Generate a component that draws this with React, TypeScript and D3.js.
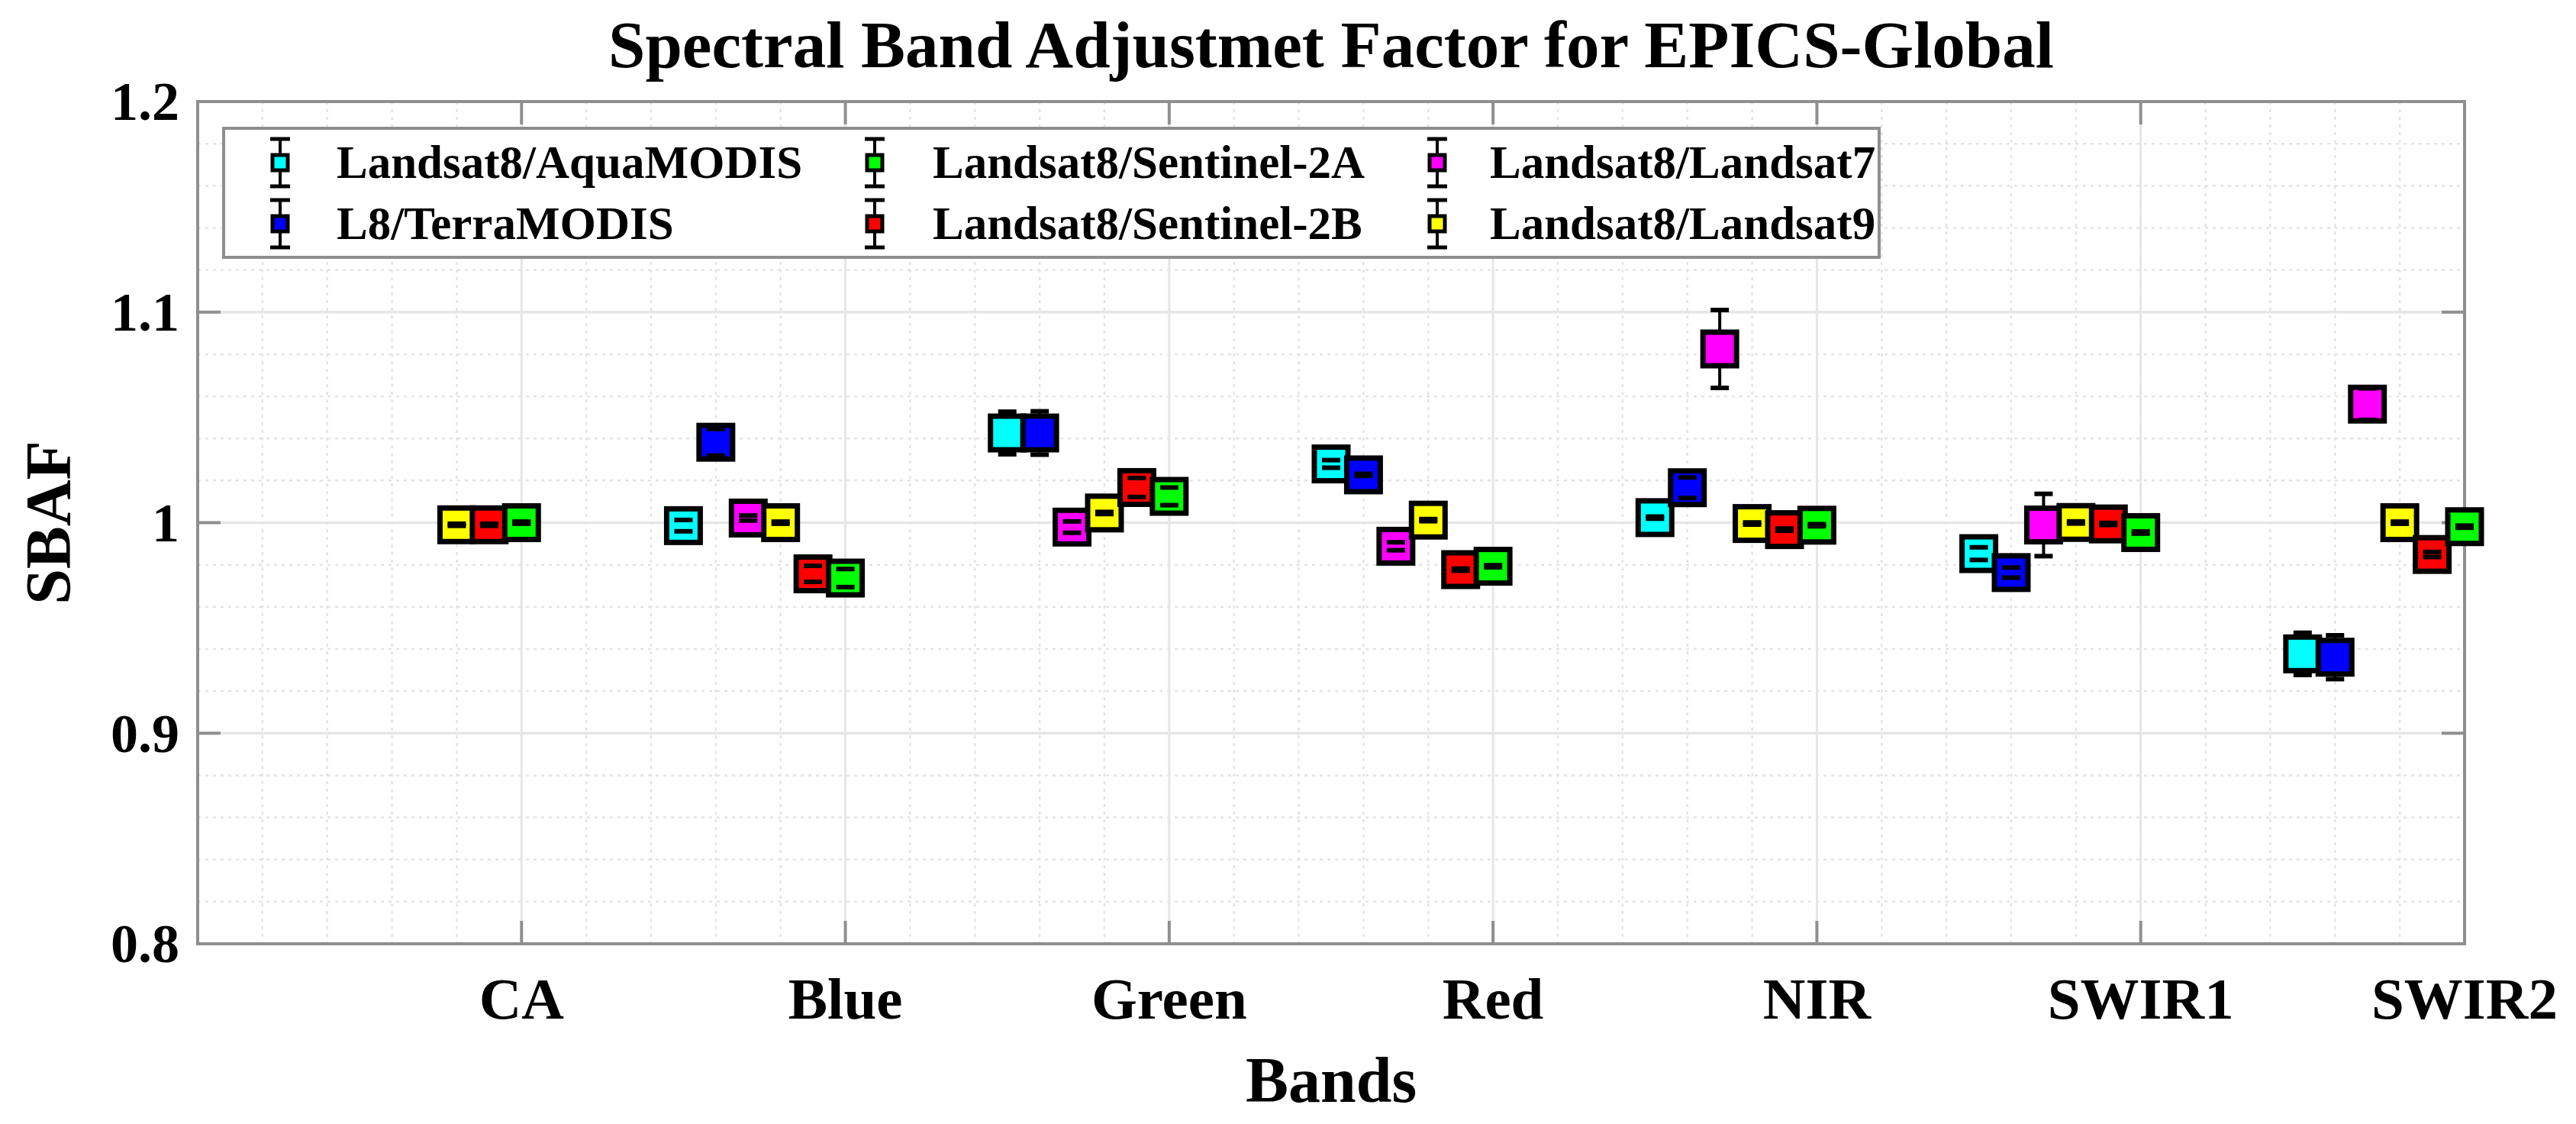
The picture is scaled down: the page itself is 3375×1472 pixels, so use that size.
import * as d3 from 'd3';
import { useRef, useEffect } from 'react';

// bands on the x axis
const bands = ['CA', 'Blue', 'Green', 'Red', 'NIR', 'SWIR1', 'SWIR2'];

// series names, in legend order
const seriesNames = [
  'Landsat8/AquaMODIS',
  'L8/TerraMODIS',
  'Landsat8/Sentinel-2A',
  'Landsat8/Sentinel-2B',
  'Landsat8/Landsat7',
  'Landsat8/Landsat9',
];
const seriesColors = ['#00FFFF', '#0000FF', '#00FF00', '#FF0000', '#FF00FF', '#FFFF00'];
// offset of each series from the band position (axis units)
const seriesOffsets = [-0.5, -0.4, 0, -0.1, -0.3, -0.2];
// drawing order (left to right inside a band)
const drawOrder = [0, 1, 4, 5, 3, 2];

// SBAF values per band (null = not available)
const aquaModis = [null, 0.9986, 1.0426, 1.0279, 1.0024, 0.9853, 0.9377];
const terraModis = [null, 1.0382, 1.0426, 1.0227, 1.0166, 0.9763, 0.9361];
const sentinel2A = [1.0, 0.9737, 1.0125, 0.9793, 0.9988, 0.9953, 0.9981];
const sentinel2B = [0.999, 0.9757, 1.0167, 0.9777, 0.9967, 0.9994, 0.9849];
const landsat7 = [null, 1.0022, 0.9979, 0.9888, 1.0825, 0.9989, 1.0563];
const landsat9 = [0.999, 1.0, 1.0046, 1.0012, 0.9996, 1.0001, 1.0];

// error (half length of the error bar)
const aquaModisErr = [null, 0.0027, 0.0101, 0.0018, 0.0005, 0.003, 0.01];
const terraModisErr = [null, 0.0063, 0.0103, 0.0005, 0.0049, 0.0024, 0.0104];
const sentinel2AErr = [0.0005, 0.0043, 0.0042, 0.0005, 0.0005, 0.0005, 0.0005];
const sentinel2BErr = [0.0005, 0.0038, 0.0045, 0.0005, 0.0005, 0.0005, 0.0012];
const landsat7Err = [null, 0.0012, 0.0027, 0.0019, 0.0185, 0.0148, 0.0075];
const landsat9Err = [0.0005, 0.0005, 0.0005, 0.0005, 0.0005, 0.0005, 0.0005];

const yTicks = [0.8, 0.9, 1, 1.1, 1.2];

const App = () => {
  const svgRef = useRef<SVGSVGElement>(null);
  const width = 3375;
  const height = 1472;
  const plot = { left: 259, right: 3229, top: 133, bottom: 1236 };
  const font = '"Liberation Serif", "Times New Roman", serif';

  useEffect(() => {
    const values = [aquaModis, terraModis, sentinel2A, sentinel2B, landsat7, landsat9];
    const errors = [aquaModisErr, terraModisErr, sentinel2AErr, sentinel2BErr, landsat7Err, landsat9Err];

    const x = d3.scaleLinear().domain([0, bands.length]).range([plot.left, plot.right]);
    const y = d3.scaleLinear().domain([0.8, 1.2]).range([plot.bottom, plot.top]);

    const svg = d3.select(svgRef.current);
    svg.selectAll('*').remove();

    svg.append('rect').attr('width', width).attr('height', height).attr('fill', '#ffffff');

    // minor grid
    const grid = svg.append('g');
    d3.range(0, 7.0001, 0.2).forEach((v) => {
      grid.append('line')
        .attr('x1', x(v)).attr('x2', x(v))
        .attr('y1', plot.top).attr('y2', plot.bottom)
        .attr('stroke', '#e4e4e4').attr('stroke-width', 2.5)
        .attr('stroke-dasharray', '4 6');
    });
    d3.range(0.8, 1.2001, 0.02).forEach((v) => {
      grid.append('line')
        .attr('x1', plot.left).attr('x2', plot.right)
        .attr('y1', y(v)).attr('y2', y(v))
        .attr('stroke', '#e4e4e4').attr('stroke-width', 2.5)
        .attr('stroke-dasharray', '4 6');
    });
    // major grid
    d3.range(0, 8).forEach((v) => {
      grid.append('line')
        .attr('x1', x(v)).attr('x2', x(v))
        .attr('y1', plot.top).attr('y2', plot.bottom)
        .attr('stroke', '#e6e6e6').attr('stroke-width', 3);
    });
    yTicks.forEach((v) => {
      grid.append('line')
        .attr('x1', plot.left).attr('x2', plot.right)
        .attr('y1', y(v)).attr('y2', y(v))
        .attr('stroke', '#e6e6e6').attr('stroke-width', 3.5);
    });

    // axes box
    const axisColor = '#8f8f8f';
    svg.append('rect')
      .attr('x', plot.left).attr('y', plot.top)
      .attr('width', plot.right - plot.left).attr('height', plot.bottom - plot.top)
      .attr('fill', 'none').attr('stroke', axisColor).attr('stroke-width', 4);

    // ticks inside, all four sides
    const tickLen = 30;
    const ticks = svg.append('g').attr('stroke', axisColor).attr('stroke-width', 4);
    yTicks.forEach((v) => {
      ticks.append('line').attr('x1', plot.left).attr('x2', plot.left + tickLen).attr('y1', y(v)).attr('y2', y(v));
      ticks.append('line').attr('x1', plot.right).attr('x2', plot.right - tickLen).attr('y1', y(v)).attr('y2', y(v));
    });
    bands.forEach((_, i) => {
      const xv = x(i + 1);
      ticks.append('line').attr('x1', xv).attr('x2', xv).attr('y1', plot.bottom).attr('y2', plot.bottom - tickLen);
      ticks.append('line').attr('x1', xv).attr('x2', xv).attr('y1', plot.top).attr('y2', plot.top + tickLen);
    });

    // tick labels
    svg.append('g')
      .selectAll('text')
      .data(yTicks)
      .join('text')
      .attr('x', 235)
      .attr('y', (d) => y(d))
      .attr('dy', '0.34em')
      .attr('text-anchor', 'end')
      .attr('font-family', font)
      .attr('font-weight', 'bold')
      .attr('font-size', 72)
      .text((d) => d3.format('~g')(d));

    svg.append('g')
      .selectAll('text')
      .data(bands)
      .join('text')
      .attr('x', (_, i) => x(i + 1))
      .attr('y', 1334)
      .attr('text-anchor', 'middle')
      .attr('font-family', font)
      .attr('font-weight', 'bold')
      .attr('font-size', 77)
      .text((d) => d);

    // axis titles
    svg.append('text')
      .attr('x', (plot.left + plot.right) / 2)
      .attr('y', 1443)
      .attr('text-anchor', 'middle')
      .attr('font-family', font)
      .attr('font-weight', 'bold')
      .attr('font-size', 84)
      .text('Bands');

    svg.append('text')
      .attr('transform', `translate(92, ${y(1)}) rotate(-90)`)
      .attr('text-anchor', 'middle')
      .attr('font-family', font)
      .attr('font-weight', 'bold')
      .attr('font-size', 84)
      .text('SBAF');

    svg.append('text')
      .attr('x', (plot.left + plot.right) / 2)
      .attr('y', 88)
      .attr('text-anchor', 'middle')
      .attr('font-family', font)
      .attr('font-weight', 'bold')
      .attr('font-size', 87)
      .text('Spectral Band Adjustmet Factor for EPICS-Global');

    // error bars with square markers
    const marker = 44;
    const capW = 24;
    const marks = svg.append('g');
    bands.forEach((_, b) => {
      drawOrder.forEach((s) => {
        const v = values[s][b];
        const e = errors[s][b];
        if (v === null || e === null) return;
        const cx = x(b + 1 + seriesOffsets[s]);
        const g = marks.append('g');
        g.append('line')
          .attr('x1', cx).attr('x2', cx)
          .attr('y1', y(v + e)).attr('y2', y(v - e))
          .attr('stroke', '#000').attr('stroke-width', 4);
        g.append('rect')
          .attr('x', cx - marker / 2).attr('y', y(v) - marker / 2)
          .attr('width', marker).attr('height', marker)
          .attr('fill', seriesColors[s])
          .attr('stroke', '#000').attr('stroke-width', 7);
        [v + e, v - e].forEach((c) => {
          g.append('line')
            .attr('x1', cx - capW / 2).attr('x2', cx + capW / 2)
            .attr('y1', y(c)).attr('y2', y(c))
            .attr('stroke', '#000').attr('stroke-width', 6);
        });
      });
    });

    // legend
    const legend = svg.append('g');
    legend.append('rect')
      .attr('x', 293).attr('y', 168)
      .attr('width', 2462 - 293).attr('height', 337 - 168)
      .attr('fill', '#ffffff').attr('stroke', axisColor).attr('stroke-width', 4);
    const colMarkerX = [367, 1146, 1883];
    const colTextX = [441, 1222, 1952];
    const rowY = [213, 293];
    seriesNames.forEach((name, i) => {
      const col = Math.floor(i / 2);
      const row = i % 2;
      const mx = colMarkerX[col];
      const my = rowY[row];
      legend.append('line')
        .attr('x1', mx).attr('x2', mx).attr('y1', my - 31).attr('y2', my + 31)
        .attr('stroke', '#000').attr('stroke-width', 4);
      [my - 31, my + 31].forEach((c) => {
        legend.append('line')
          .attr('x1', mx - 13).attr('x2', mx + 13).attr('y1', c).attr('y2', c)
          .attr('stroke', '#000').attr('stroke-width', 5);
      });
      legend.append('rect')
        .attr('x', mx - 10).attr('y', my - 10).attr('width', 20).attr('height', 20)
        .attr('fill', seriesColors[i]).attr('stroke', '#000').attr('stroke-width', 5);
      legend.append('text')
        .attr('x', colTextX[col]).attr('y', my + 20)
        .attr('font-family', font)
        .attr('font-weight', 'bold')
        .attr('font-size', 61)
        .text(name);
    });
  }, []);

  return (
    <div style={{ position: 'absolute', left: 0, top: 0 }}>
      <svg ref={svgRef} width={width} height={height} style={{ display: 'block' }} />
    </div>
  );
};

export default App;
